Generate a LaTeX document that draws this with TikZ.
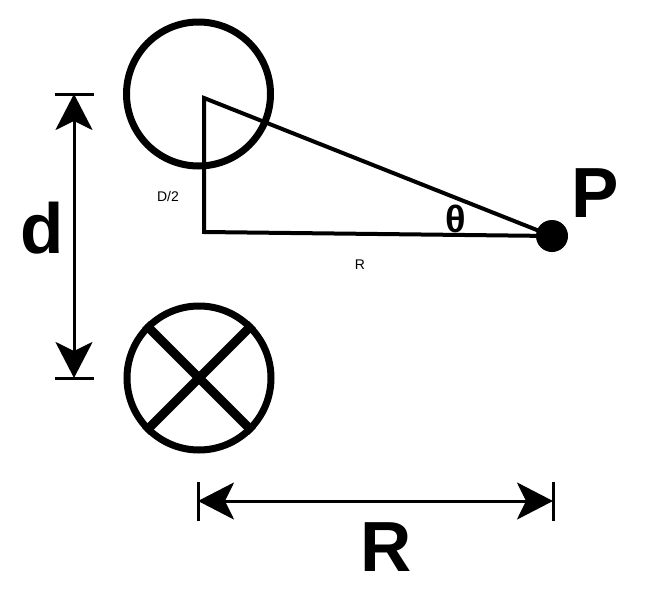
\documentclass[tikz,border=0pt]{standalone}
\usepackage{fontspec}
\setmainfont{Liberation Sans}
\usetikzlibrary{arrows.meta}

\tikzset{
  wire/.style={circle,draw,line width=7pt,inner sep=0pt,minimum size=144pt},
  leg/.style={line width=4pt},
  dim/.style={line width=3pt,{Stealth[length=36pt,width=37pt,inset=9pt]}-{Stealth[length=36pt,width=37pt,inset=9pt]}},
  tick/.style={line width=3pt},
  biglabel/.style={inner sep=0pt,font=\fontsize{71}{71}\selectfont\bfseries},
  smalllabel/.style={inner sep=0pt,font=\fontsize{14}{14}\selectfont}
}

\begin{document}
\begin{tikzpicture}[x=1pt,y=-1pt]
\useasboundingbox (0,0) rectangle (657,600);
% wires
\node[wire] (top) at (198.5,94){};
\node[wire] (bot) at (199,378){};
\draw[line width=9pt] (bot.45) -- (bot.225);
\draw[line width=9pt] (bot.135) -- (bot.-45);
% triangle
\node[circle,fill=black,inner sep=0pt,minimum size=32pt] (P) at (552,236){};
\coordinate (apex) at (204,98);
\coordinate (foot) at (204,232);
\draw[leg,line join=miter] (P.center) -- (apex) -- (foot) -- (P.center);
% d
\coordinate (dtop) at (74,94);
\coordinate (dbot) at (74,378);
\coordinate (dtopl) at (55,94);
\coordinate (dtopr) at (94,94);
\coordinate (dbotl) at (55,378);
\coordinate (dbotr) at (94,378);
\foreach \from/\to in {dtopl/dtopr,dbotl/dbotr}
  \draw[tick] (\from) -- (\to);
\draw[dim] (dtop) -- (dbot);
% R
\coordinate (rleft) at (198,501);
\coordinate (rright) at (553,501);
\coordinate (rleftu) at (198,482);
\coordinate (rleftd) at (198,521);
\coordinate (rrightu) at (553,482);
\coordinate (rrightd) at (553,521);
\foreach \from/\to in {rleftu/rleftd,rrightu/rrightd}
  \draw[tick] (\from) -- (\to);
\draw[dim] (rleft) -- (rright);
% labels
\node[biglabel] (dlabel) at (42,228){d};
\node[biglabel] (Plabel) at (595,193){P};
\node[biglabel] (Rlabel) at (386,547){R};
\node[inner sep=0pt,font=\fontsize{38}{38}\selectfont\bfseries] (thetalabel) at (456,219){θ};
\node[smalllabel] (halflabel) at (168,196){D/2};
\node[smalllabel] (rlabel) at (360,265){R};
\end{tikzpicture}
\end{document}
